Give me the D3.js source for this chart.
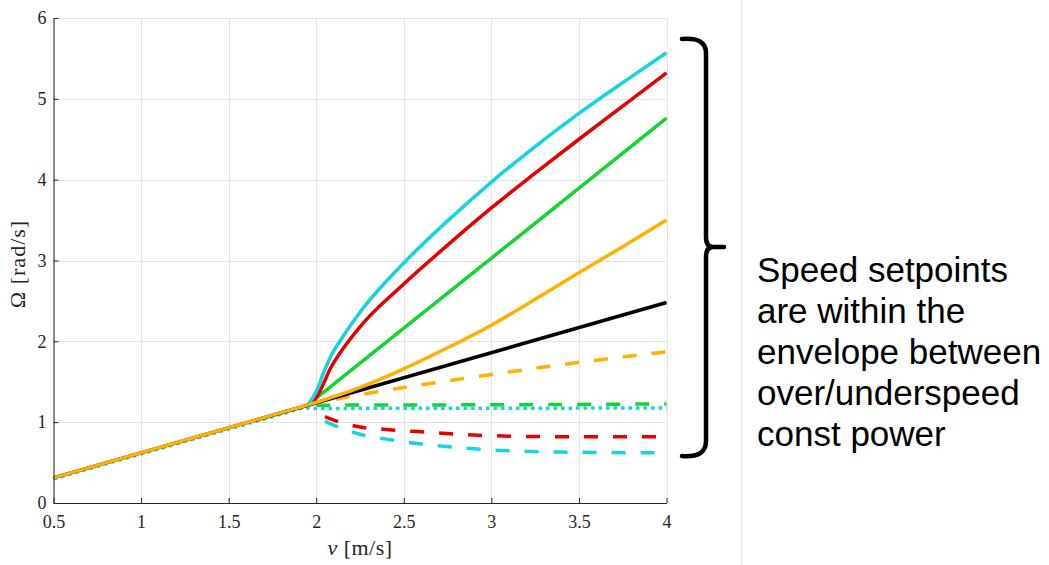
<!DOCTYPE html>
<html>
<head>
<meta charset="utf-8">
<script src="https://cdn.jsdelivr.net/npm/d3@7/dist/d3.min.js"></script>
<style>
  html, body { margin: 0; padding: 0; background: #fff; }
  svg { display: block; }
</style>
</head>
<body>
<script>
// Axis ticks
const xTicks = [0.5, 1, 1.5, 2, 2.5, 3, 3.5, 4];
const yTicks = [0, 1, 2, 3, 4, 5, 6];

// Rotor speed Ω [rad/s] against wind speed v [m/s]
// Shared low-wind segment, where every setpoint follows the same tip-speed ratio
const commonV = [0.5, 1.95];
const commonW = [0.31, 1.21];

// Black, solid: fixed tip-speed ratio all the way up
const blackV = [0.5, 4];
const blackW = [0.31, 2.48];

// Orange, solid
const orangeV = [1.95, 2.25, 2.5, 2.75, 3, 3.25, 3.5, 3.75, 4];
const orangeW = [1.21, 1.43, 1.66, 1.92, 2.2, 2.52, 2.85, 3.17, 3.5];

// Green, solid
const greenV = [1.95, 4];
const greenW = [1.21, 4.76];

// Red, solid (overspeed)
const redV = [1.95, 2.0, 2.04, 2.08, 2.15, 2.25, 2.5, 2.75, 3, 3.25, 3.5, 3.75, 4];
const redW = [1.21, 1.3, 1.47, 1.66, 1.9, 2.18, 2.71, 3.19, 3.65, 4.08, 4.5, 4.91, 5.32];

// Cyan, solid (overspeed, constant power)
const cyanV = [1.95, 2.0, 2.04, 2.08, 2.15, 2.25, 2.5, 2.75, 3, 3.25, 3.5, 3.75, 4];
const cyanW = [1.21, 1.38, 1.6, 1.8, 2.05, 2.36, 2.97, 3.49, 3.97, 4.41, 4.82, 5.2, 5.57];

// Orange, dashed
const orangeDashV = [1.95, 2.25, 2.5, 2.75, 3, 3.5, 4];
const orangeDashW = [1.21, 1.34, 1.43, 1.51, 1.59, 1.74, 1.87];

// Green, dashed
const greenDashV = [2.0, 3, 4];
const greenDashW = [1.21, 1.215, 1.225];

// Cyan, dotted
const cyanDotV = [0.5, 1.93, 1.98, 4];
const cyanDotW = [0.3, 1.18, 1.17, 1.175];

// Red, dashed (underspeed)
const redDashV = [2.05, 2.15, 2.25, 2.4, 2.6, 2.9, 3.4, 4];
const redDashW = [1.07, 0.99, 0.94, 0.91, 0.88, 0.84, 0.82, 0.82];

// Cyan, dashed (underspeed, constant power)
const cyanDashV = [2.05, 2.15, 2.25, 2.4, 2.6, 2.9, 3.4, 4];
const cyanDashW = [1.01, 0.92, 0.85, 0.79, 0.73, 0.67, 0.63, 0.62];

// Annotation text
const noteLines = ["Speed setpoints", "are within the", "envelope between", "over/underspeed", "const power"];

const W = 1049, H = 565;
const svg = d3.select("body").append("svg").attr("width", W).attr("height", H);

const x = d3.scaleLinear().domain([0.5, 4]).range([53.5, 666.5]);
const y = d3.scaleLinear().domain([0, 6]).range([503, 18]);

const serif = "'Liberation Serif', 'DejaVu Serif', serif";

// Grid
const grid = svg.append("g").attr("stroke", "#e3e3e3").attr("stroke-width", 1);
grid.selectAll("line.v").data(xTicks).join("line")
  .attr("x1", d => Math.round(x(d)) + 0.5).attr("x2", d => Math.round(x(d)) + 0.5)
  .attr("y1", y(6)).attr("y2", y(0));
grid.selectAll("line.h").data(yTicks).join("line")
  .attr("y1", d => Math.round(y(d)) + 0.5).attr("y2", d => Math.round(y(d)) + 0.5)
  .attr("x1", x(0.5)).attr("x2", x(4));

// Series, in drawing order (later ones on top)
const CYAN = "#16d3e2", RED = "#e60000", GREEN = "#14d52e", ORANGE = "#ffb000";
const series = [
  { v: cyanDashV, w: cyanDashW, color: CYAN, dash: "14,15", smooth: true },
  { v: redDashV, w: redDashW, color: RED, dash: "14,15", smooth: true },
  { v: greenDashV, w: greenDashW, color: GREEN, dash: "14,15", smooth: false },
  { v: cyanDotV, w: cyanDotW, color: CYAN, dash: "3.5,4", smooth: false },
  { v: orangeDashV, w: orangeDashW, color: ORANGE, dash: "14,15", smooth: true },
  { v: blackV, w: blackW, color: "#000000", dash: null, smooth: false },
  { v: greenV, w: greenW, color: GREEN, dash: null, smooth: false },
  { v: redV, w: redW, color: RED, dash: null, smooth: true },
  { v: cyanV, w: cyanW, color: CYAN, dash: null, smooth: true },
  { v: orangeV, w: orangeW, color: ORANGE, dash: null, smooth: true },
  { v: commonV, w: commonW, color: ORANGE, dash: null, smooth: false }
];

const smoothLine = d3.line().x(d => x(d[0])).y(d => y(d[1])).curve(d3.curveMonotoneX);
const straightLine = d3.line().x(d => x(d[0])).y(d => y(d[1])).curve(d3.curveLinear);

svg.append("g").selectAll("path").data(series).join("path")
  .attr("d", s => (s.smooth ? smoothLine : straightLine)(s.v.map((v, i) => [v, s.w[i]])))
  .attr("fill", "none")
  .attr("stroke", s => s.color)
  .attr("stroke-width", 3.5)
  .attr("stroke-dasharray", s => s.dash)
  .attr("stroke-linejoin", "round");

// Axes
const xAxis = svg.append("g")
  .attr("transform", `translate(0,${y(0)})`)
  .call(d3.axisBottom(x).tickValues(xTicks).tickFormat(d3.format("")).tickSizeInner(-5).tickSizeOuter(0).tickPadding(12));
const yAxis = svg.append("g")
  .attr("transform", `translate(${x(0.5)},0)`)
  .call(d3.axisLeft(y).tickValues(yTicks).tickFormat(d3.format("")).tickSizeInner(-5).tickSizeOuter(0).tickPadding(7));

[xAxis, yAxis].forEach(g => {
  g.select(".domain").attr("stroke", "#262626").attr("stroke-width", 1);
  g.selectAll(".tick line").attr("stroke", "#262626");
  g.selectAll(".tick text").attr("fill", "#262626").attr("font-family", serif).attr("font-size", 18);
});

// Axis labels
const xl = svg.append("text")
  .attr("x", 360).attr("y", 555)
  .attr("text-anchor", "middle")
  .attr("font-family", serif).attr("font-size", 22).attr("letter-spacing", 0.5).attr("fill", "#262626");
xl.append("tspan").attr("font-style", "italic").text("v");
xl.append("tspan").text(" [m/s]");

svg.append("text")
  .attr("transform", "translate(25,264) rotate(-90)")
  .attr("text-anchor", "middle")
  .attr("font-family", serif).attr("font-size", 22).attr("letter-spacing", 1).attr("fill", "#262626")
  .text("Ω [rad/s]");

// Separator to the right of the chart
svg.append("line")
  .attr("x1", 741.5).attr("x2", 741.5).attr("y1", 0).attr("y2", H)
  .attr("stroke", "#e6e6e6").attr("stroke-width", 1);

// Curly brace spanning the envelope
svg.append("path")
  .attr("d", "M682,39 Q706,37 706,53 L706,237 Q706,247 713,247 L724,247 M713,247 Q706,247 706,257 L706,441 Q706,458 682,456")
  .attr("fill", "none")
  .attr("stroke", "#000")
  .attr("stroke-width", 4.5)
  .attr("stroke-linecap", "round")
  .attr("stroke-linejoin", "round");

// Note
svg.append("g").selectAll("text").data(noteLines).join("text")
  .attr("x", 757)
  .attr("y", (d, i) => 282 + i * 41)
  .attr("font-family", "'Liberation Sans', Arial, sans-serif")
  .attr("font-size", 35)
  .attr("fill", "#000")
  .text(d => d);
</script>
</body>
</html>
